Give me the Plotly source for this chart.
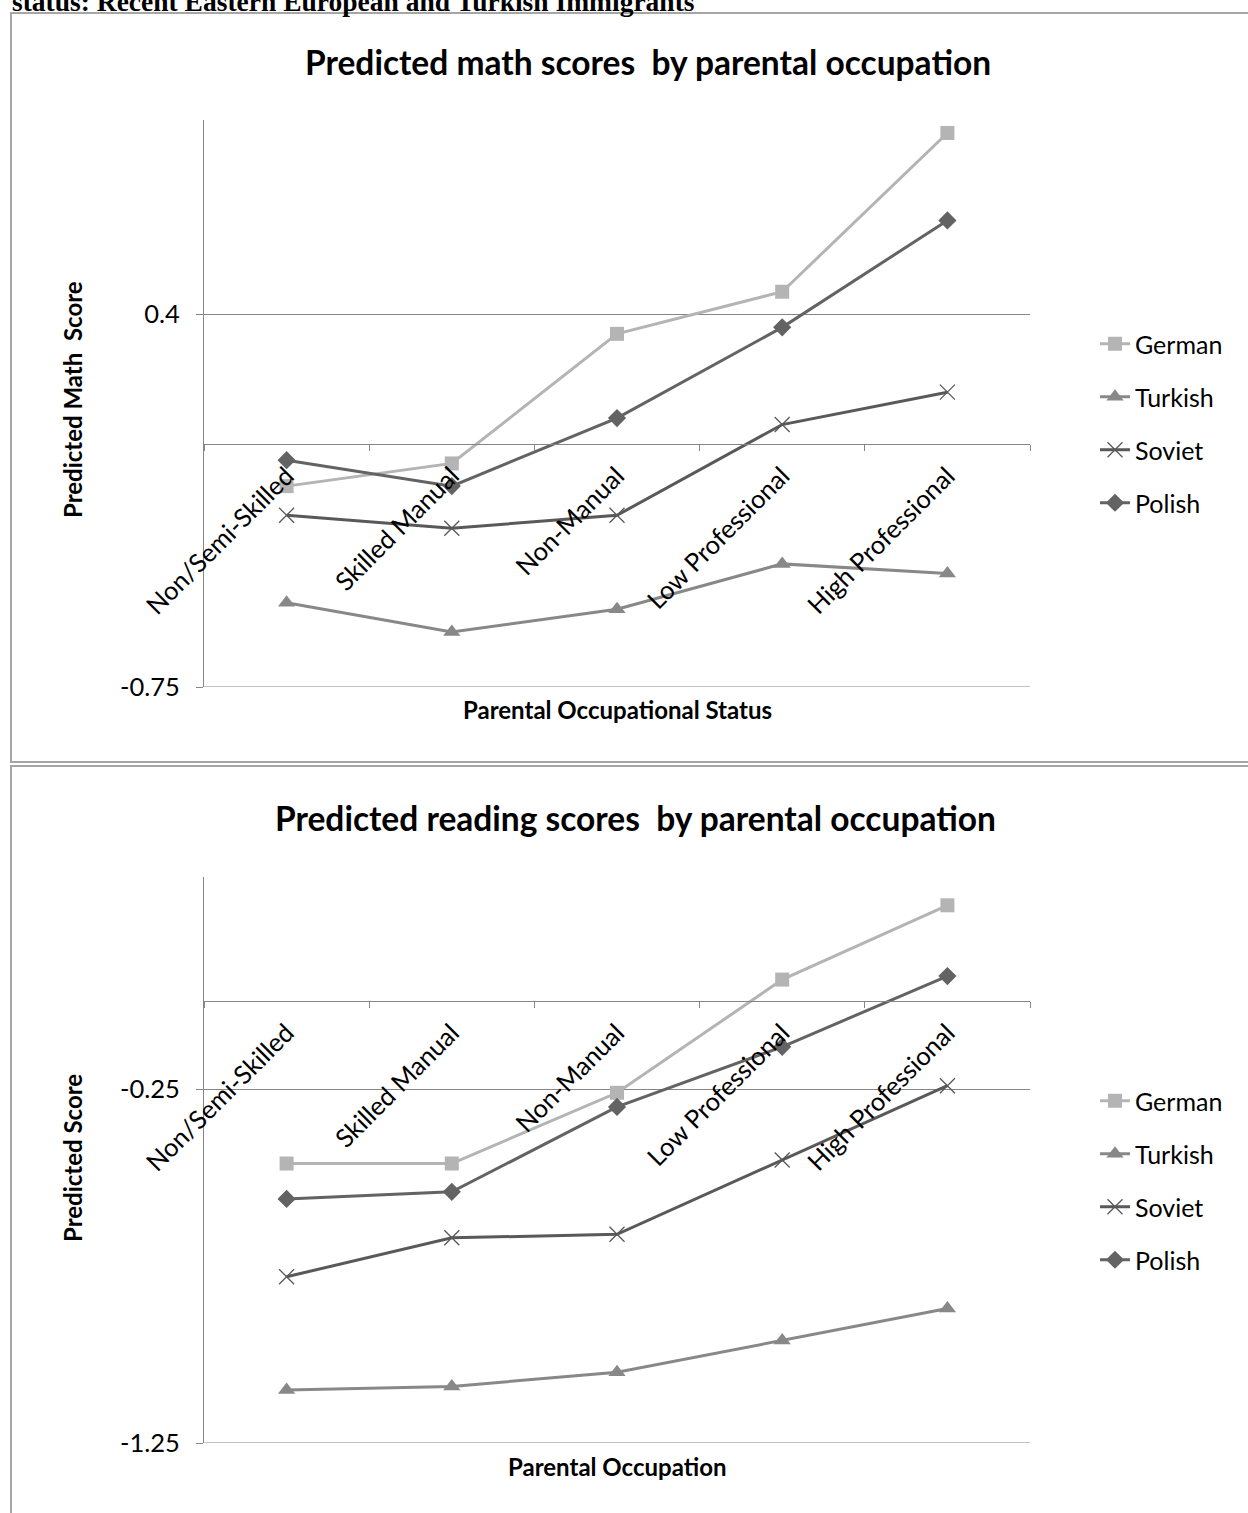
import plotly.graph_objects as go

W, H = 1248, 1513
FONT = "Lato"
GRID = "#868686"

# ---------------- data ----------------
categories = ["Non/Semi-Skilled", "Skilled Manual", "Non-Manual", "Low Professional", "High Professional"]
series = ["German", "Turkish", "Soviet", "Polish"]

math_german = [-0.13, -0.06, 0.34, 0.47, 0.96]
math_turkish = [-0.49, -0.58, -0.51, -0.37, -0.40]
math_soviet = [-0.22, -0.26, -0.22, 0.06, 0.16]
math_polish = [-0.05, -0.13, 0.08, 0.36, 0.69]

read_german = [-0.46, -0.46, -0.26, 0.06, 0.27]
read_turkish = [-1.10, -1.09, -1.05, -0.96, -0.87]
read_soviet = [-0.78, -0.67, -0.66, -0.45, -0.24]
read_polish = [-0.56, -0.54, -0.30, -0.13, 0.07]

math_ticks = [-0.75, 0.4]
math_ticktext = ["-0.75", "0.4"]
read_ticks = [-1.25, -0.25]
read_ticktext = ["-1.25", "-0.25"]

caption = "status: Recent Eastern European and Turkish Immigrants"
title_math = "Predicted math scores  by parental occupation"
title_read = "Predicted reading scores  by parental occupation"
ytitle_math = "Predicted Math  Score"
ytitle_read = "Predicted Score"
xtitle_math = "Parental Occupational Status"
xtitle_read = "Parental Occupation"

# ---------------- styles ----------------
styles = {
    "German": dict(line="#b4b4b4", symbol="square", size=14, mcolor="#b4b4b4", mlw=0),
    "Turkish": dict(line="#888888", symbol="triangle-up", size=15, mcolor="#888888", mlw=0),
    "Soviet": dict(line="#595959", symbol="x-thin-open", size=15, mcolor="#595959", mlw=1.3),
    "Polish": dict(line="#636363", symbol="diamond", size=14, mcolor="#636363", mlw=0),
}
TICK_SIZE = 25.5
LEG_SIZE = 25
TITLE_SIZE = 33.5
AXT_SIZE = 24


def py(p):
    return 1 - p / H


def px(p):
    return p / W


x_dom = [px(204), px(1030)]
y1_dom = [py(687), py(120)]
y2_dom = [py(1443), py(877)]
y1_range = [-0.75, 1.0]
y2_range = [-1.25, 0.35]


def cross(dom, rng, v=0.0):
    return dom[0] + (v - rng[0]) / (rng[1] - rng[0]) * (dom[1] - dom[0])


fig = go.Figure()

math_vals = [math_german, math_turkish, math_soviet, math_polish]
read_vals = [read_german, read_turkish, read_soviet, read_polish]

for vals_list, xa, ya, leg, pre in [(math_vals, "x", "y", "legend", "m"),
                                     (read_vals, "x2", "y2", "legend2", "r")]:
    for name, vals in zip(series, vals_list):
        st = styles[name]
        mk = dict(symbol=st["symbol"], size=st["size"], color=st["mcolor"])
        if st["mlw"]:
            mk["line"] = dict(color=st["mcolor"], width=st["mlw"])
        else:
            mk["line"] = dict(width=0)
        fig.add_trace(go.Scatter(
            x=categories, y=vals, mode="lines+markers", name=name,
            line=dict(color=st["line"], width=3),
            marker=mk, xaxis=xa, yaxis=ya, legend=leg, legendgroup=pre + name,
        ))

xcommon = dict(type="category", range=[-0.5, 4.5], domain=x_dom, anchor="free",
               showline=True, linecolor=GRID, linewidth=1, ticks="outside",
               tickson="boundaries", ticklen=6, tickcolor=GRID, tickwidth=1,
               tickangle=-45, tickfont=dict(size=TICK_SIZE, family=FONT, color="black"),
               showgrid=False, zeroline=False, ticklabelstandoff=6, automargin=False)
ycommon = dict(showline=True, linecolor=GRID, linewidth=1, ticks="outside", ticklen=7,
               tickcolor=GRID, showgrid=True, gridcolor=GRID, gridwidth=1,
               zeroline=False, tickfont=dict(size=TICK_SIZE, family=FONT, color="black"),
               ticklabelstandoff=11, automargin=False)

legcommon = dict(xanchor="left", yanchor="top",
                 font=dict(size=LEG_SIZE, family=FONT, color="black"), tracegroupgap=17.5,
                 bgcolor="rgba(0,0,0,0)")

fig.update_layout(
    width=W, height=H, margin=dict(l=0, r=0, t=0, b=0, autoexpand=False),
    paper_bgcolor="white", plot_bgcolor="white",
    font=dict(family=FONT, color="black"),
    xaxis=dict(**xcommon, position=cross(y1_dom, y1_range)),
    yaxis=dict(**ycommon, domain=y1_dom, range=y1_range, anchor="x",
               tickvals=math_ticks, ticktext=math_ticktext),
    xaxis2=dict(**xcommon, position=cross(y2_dom, y2_range)),
    yaxis2=dict(**ycommon, domain=y2_dom, range=y2_range, anchor="x2",
                tickvals=read_ticks, ticktext=read_ticktext),
    legend=dict(**legcommon, x=px(1095), y=py(321)),
    legend2=dict(**legcommon, x=px(1095), y=py(1078)),
    showlegend=True,
)

# bottom gridlines at the lowest tick value (Excel draws them along the plot floor)
fig.add_shape(type="line", xref="x domain", yref="y", x0=0, x1=1,
              y0=math_ticks[0], y1=math_ticks[0], line=dict(color=GRID, width=1))
fig.add_shape(type="line", xref="x2 domain", yref="y2", x0=0, x1=1,
              y0=read_ticks[0], y1=read_ticks[0], line=dict(color=GRID, width=1))

box_line = dict(color="#a6a6a6", width=2)
fig.add_shape(type="rect", xref="paper", yref="paper", x0=px(11), x1=px(1252),
              y0=py(762), y1=py(13), line=box_line, layer="below")
fig.add_shape(type="rect", xref="paper", yref="paper", x0=px(11), x1=px(1252),
              y0=py(1530), y1=py(766), line=box_line, layer="below")

ann = []
ann.append(dict(text="<b>" + caption + "</b>", x=px(10), y=py(18.5), xref="paper", yref="paper",
                xanchor="left", yanchor="bottom", showarrow=False,
                font=dict(family="Liberation Serif", size=27.5, color="black")))
ann.append(dict(text="<b>" + title_math + "</b>", x=px(648), y=py(62), xref="paper", yref="paper",
                xanchor="center", yanchor="middle", showarrow=False,
                font=dict(family=FONT, size=TITLE_SIZE, color="black")))
ann.append(dict(text="<b>" + title_read + "</b>", x=px(635), y=py(818), xref="paper", yref="paper",
                xanchor="center", yanchor="middle", showarrow=False,
                font=dict(family=FONT, size=TITLE_SIZE, color="black")))
ann.append(dict(text="<b>" + xtitle_math + "</b>", x=px(617), y=py(710), xref="paper", yref="paper",
                xanchor="center", yanchor="middle", showarrow=False,
                font=dict(family=FONT, size=AXT_SIZE, color="black")))
ann.append(dict(text="<b>" + xtitle_read + "</b>", x=px(617), y=py(1466), xref="paper", yref="paper",
                xanchor="center", yanchor="middle", showarrow=False,
                font=dict(family=FONT, size=AXT_SIZE, color="black")))
ann.append(dict(text="<b>" + ytitle_math + "</b>", x=px(72), y=py(400), xref="paper", yref="paper",
                xanchor="center", yanchor="middle", showarrow=False, textangle=-90,
                font=dict(family=FONT, size=AXT_SIZE, color="black")))
ann.append(dict(text="<b>" + ytitle_read + "</b>", x=px(72), y=py(1158), xref="paper", yref="paper",
                xanchor="center", yanchor="middle", showarrow=False, textangle=-90,
                font=dict(family=FONT, size=AXT_SIZE, color="black")))
fig.update_layout(annotations=ann)

fig.write_html("out.html")
